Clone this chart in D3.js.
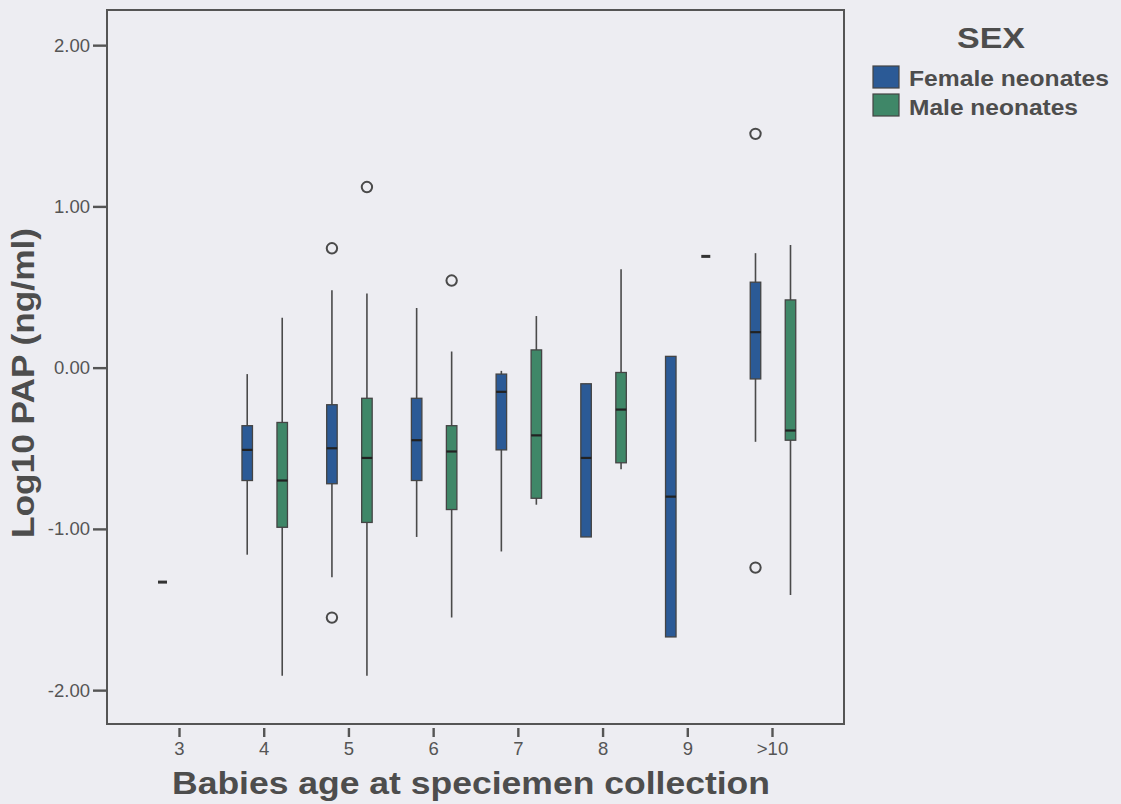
<!DOCTYPE html>
<html>
<head>
<meta charset="utf-8">
<script src="https://cdn.jsdelivr.net/npm/d3@7"></script>
<style>
  html, body { margin: 0; padding: 0; background: #ededf2; }
  svg { display: block; font-family: "Liberation Sans", Arial, sans-serif; }
</style>
</head>
<body>
<svg id="chart" width="1121" height="804"></svg>
<script>
// Age groups (days) at specimen collection
const categories = ["3", "4", "5", "6", "7", "8", "9", ">10"];
const seriesNames = ["Female neonates", "Male neonates"];

// Box statistics per age group: [lower whisker, Q1, median, Q3, upper whisker]; null = no data
const femaleStats = [
  [-1.33, -1.33, -1.33, -1.33, -1.33],
  [-1.16, -0.70, -0.51, -0.36, -0.04],
  [-1.30, -0.72, -0.50, -0.23, 0.48],
  [-1.05, -0.70, -0.45, -0.19, 0.37],
  [-1.14, -0.51, -0.15, -0.04, -0.02],
  [-1.05, -1.05, -0.56, -0.10, -0.10],
  [-1.67, -1.67, -0.80, 0.07, 0.07],
  [-0.46, -0.07, 0.22, 0.53, 0.71]
];
const maleStats = [
  null,
  [-1.91, -0.99, -0.70, -0.34, 0.31],
  [-1.91, -0.96, -0.56, -0.19, 0.46],
  [-1.55, -0.88, -0.52, -0.36, 0.10],
  [-0.85, -0.81, -0.42, 0.11, 0.32],
  [-0.63, -0.59, -0.26, -0.03, 0.61],
  [0.69, 0.69, 0.69, 0.69, 0.69],
  [-1.41, -0.45, -0.39, 0.42, 0.76]
];

// Outlying observations: [age group, value]
const femaleOutliers = [["5", 0.74], ["5", -1.55], [">10", 1.45], [">10", -1.24]];
const maleOutliers = [["5", 1.12], ["6", 0.54]];

const yTickValues = [-2, -1, 0, 1, 2];

const colors = ["#2b5a96", "#3f8768"];
const ink = "#4d4d4d";
const FONT = "Liberation Sans, Arial, sans-serif";

const svg = d3.select("#chart");
const frame = { left: 107, right: 844, top: 10, bottom: 724 };

const x = d3.scalePoint()
  .domain(categories)
  .range([frame.left, frame.right])
  .padding(0.85);

const xSub = d3.scalePoint()
  .domain(seriesNames)
  .range([-16.5, 18.5]);

const y = d3.scaleLinear()
  .domain([-2.21, 2.218])
  .range([frame.bottom, frame.top]);

const fmt = d3.formatLocale({ decimal: ".", thousands: ",", grouping: [3], currency: ["", ""], minus: "-" }).format(".2f");

// Plot frame
svg.append("rect")
  .attr("x", frame.left).attr("y", frame.top)
  .attr("width", frame.right - frame.left)
  .attr("height", frame.bottom - frame.top)
  .attr("fill", "none")
  .attr("stroke", "#555")
  .attr("stroke-width", 2);

// Y axis
const yAxis = svg.append("g")
  .attr("transform", `translate(${frame.left - 1},0)`)
  .call(d3.axisLeft(y).tickValues(yTickValues).tickFormat(fmt).tickSize(13).tickPadding(3));
yAxis.select(".domain").remove();
yAxis.selectAll(".tick line").attr("stroke", "#555").attr("stroke-width", 2.4);
yAxis.selectAll(".tick text")
  .attr("fill", "#555").style("font-size", "18.5px").style("font-family", FONT);

// X axis
const xAxis = svg.append("g")
  .attr("transform", `translate(0,${frame.bottom + 4})`)
  .call(d3.axisBottom(x).tickSize(9).tickPadding(5));
xAxis.select(".domain").remove();
xAxis.selectAll(".tick line").attr("stroke", "#555").attr("stroke-width", 2.4);
xAxis.selectAll(".tick text")
  .attr("fill", "#555").style("font-size", "18.5px").style("font-family", FONT);

// Axis titles
svg.append("text")
  .attr("transform", `translate(34,383) rotate(-90)`)
  .attr("text-anchor", "middle")
  .attr("textLength", 310).attr("lengthAdjust", "spacingAndGlyphs")
  .style("font-size", "32px").attr("font-weight", "bold").attr("fill", ink)
  .text("Log10 PAP (ng/ml)");

svg.append("text")
  .attr("x", 471).attr("y", 794)
  .attr("text-anchor", "middle")
  .attr("textLength", 598).attr("lengthAdjust", "spacingAndGlyphs")
  .style("font-size", "31px").attr("font-weight", "bold").attr("fill", ink)
  .text("Babies age at speciemen collection");

// Boxes
const boxW = 10.5;
function drawSeries(stats, outliers, name, color) {
  const g = svg.append("g");
  stats.forEach((s, i) => {
    if (!s) return;
    const cx = x(categories[i]) + xSub(name);
    const [lo, q1, med, q3, hi] = s;
    if (lo === hi) {
      // single observation: short bar at its value
      g.append("rect")
        .attr("x", cx - 4.5).attr("y", y(med) - 1.5)
        .attr("width", 9).attr("height", 3)
        .attr("fill", "#333");
      return;
    }
    g.append("line")
      .attr("x1", cx).attr("x2", cx)
      .attr("y1", y(hi)).attr("y2", y(lo))
      .attr("stroke", "#4a4a4a").attr("stroke-width", 1.6);
    g.append("rect")
      .attr("x", cx - boxW / 2).attr("y", y(q3))
      .attr("width", boxW).attr("height", y(q1) - y(q3))
      .attr("fill", color)
      .attr("stroke", "#444").attr("stroke-width", 1.3);
    g.append("line")
      .attr("x1", cx - boxW / 2).attr("x2", cx + boxW / 2)
      .attr("y1", y(med)).attr("y2", y(med))
      .attr("stroke", "#222").attr("stroke-width", 2.2);
  });
  outliers.forEach(([cat, v]) => {
    g.append("circle")
      .attr("cx", x(cat) + xSub(name)).attr("cy", y(v))
      .attr("r", 5.2)
      .attr("fill", "none")
      .attr("stroke", "#4a4a4a").attr("stroke-width", 2);
  });
}
drawSeries(femaleStats, femaleOutliers, seriesNames[0], colors[0]);
drawSeries(maleStats, maleOutliers, seriesNames[1], colors[1]);

// Legend
const legend = svg.append("g");
legend.append("text")
  .attr("x", 991).attr("y", 48)
  .attr("text-anchor", "middle")
  .attr("textLength", 68).attr("lengthAdjust", "spacingAndGlyphs")
  .style("font-size", "29px").attr("font-weight", "bold").attr("fill", ink)
  .text("SEX");
const labelWidths = [200, 169];
seriesNames.forEach((name, i) => {
  legend.append("rect")
    .attr("x", 873).attr("y", 66 + i * 28)
    .attr("width", 26).attr("height", 22)
    .attr("fill", colors[i])
    .attr("stroke", "#444").attr("stroke-width", 1.2);
  legend.append("text")
    .attr("x", 909).attr("y", 86 + i * 29)
    .attr("textLength", labelWidths[i]).attr("lengthAdjust", "spacingAndGlyphs")
    .style("font-size", "22px").attr("font-weight", "bold").attr("fill", ink)
    .text(name);
});
</script>
</body>
</html>
